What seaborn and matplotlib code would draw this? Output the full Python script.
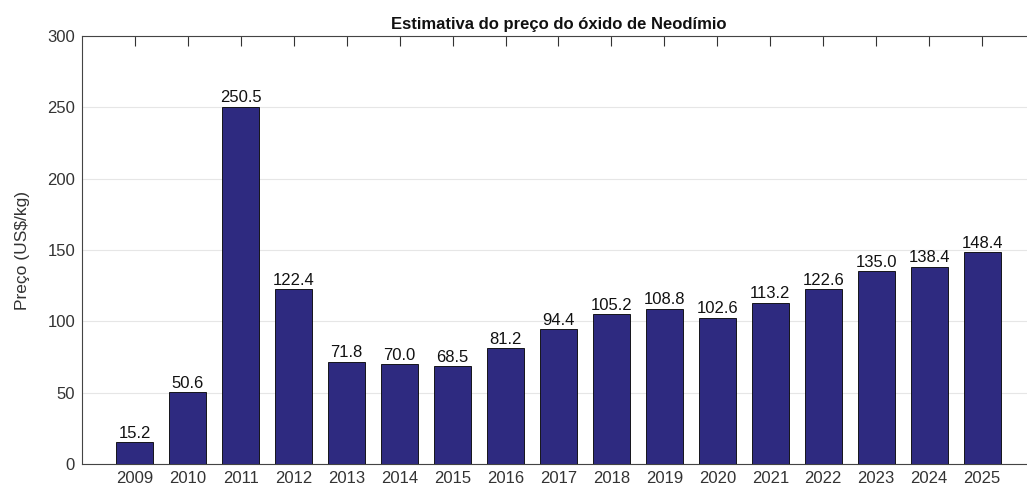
import matplotlib
matplotlib.use('Agg')
import matplotlib.pyplot as plt
import seaborn as sns
import pandas as pd

# dados do gráfico
anos = ['2009', '2010', '2011', '2012', '2013', '2014', '2015', '2016', '2017',
        '2018', '2019', '2020', '2021', '2022', '2023', '2024', '2025']
precos = [15.2, 50.6, 250.5, 122.4, 71.8, 70.0, 68.5, 81.2, 94.4,
          105.2, 108.8, 102.6, 113.2, 122.6, 135.0, 138.4, 148.4]

df = pd.DataFrame({'Ano': anos, 'Preco': precos})

sns.set_style('white')
plt.rcParams['font.family'] = ['Liberation Sans', 'DejaVu Sans']

fig = plt.figure(figsize=(10.27, 4.88), dpi=100)
ax = fig.add_axes([0.0798, 0.049, 0.928, 0.877])

sns.barplot(data=df, x='Ano', y='Preco', color='#2e2a80', saturation=1,
            width=0.7, edgecolor='black', linewidth=0.6, ax=ax, zorder=3)

for cont in ax.containers:
    ax.bar_label(cont, fmt='%.1f', padding=1, fontsize=12, color='#111111')

ax.set_xlim(-1, 17)
ax.set_ylim(0, 300)
ax.set_yticks(range(0, 301, 50))
ax.yaxis.grid(True, color='#e6e6e6', linewidth=0.8, zorder=0)
ax.set_axisbelow(True)

ax.tick_params(axis='both', direction='in', length=7, width=0.8, color='#333333',
               labelsize=12, labelcolor='#333333', top=True, pad=5)
for s in ['left', 'bottom', 'top']:
    ax.spines[s].set_color('#444444')
    ax.spines[s].set_linewidth(0.8)
ax.spines['right'].set_visible(False)

ax.set_xlabel('')
ax.set_ylabel(r'Preço (US\$/kg)', fontsize=12.5, color='#333333', labelpad=12)
ax.set_title('Estimativa do preço do óxido de Neodímio', fontsize=12,
             fontweight='bold', pad=5, color='#111111')

fig.savefig('out.png', dpi=100)
